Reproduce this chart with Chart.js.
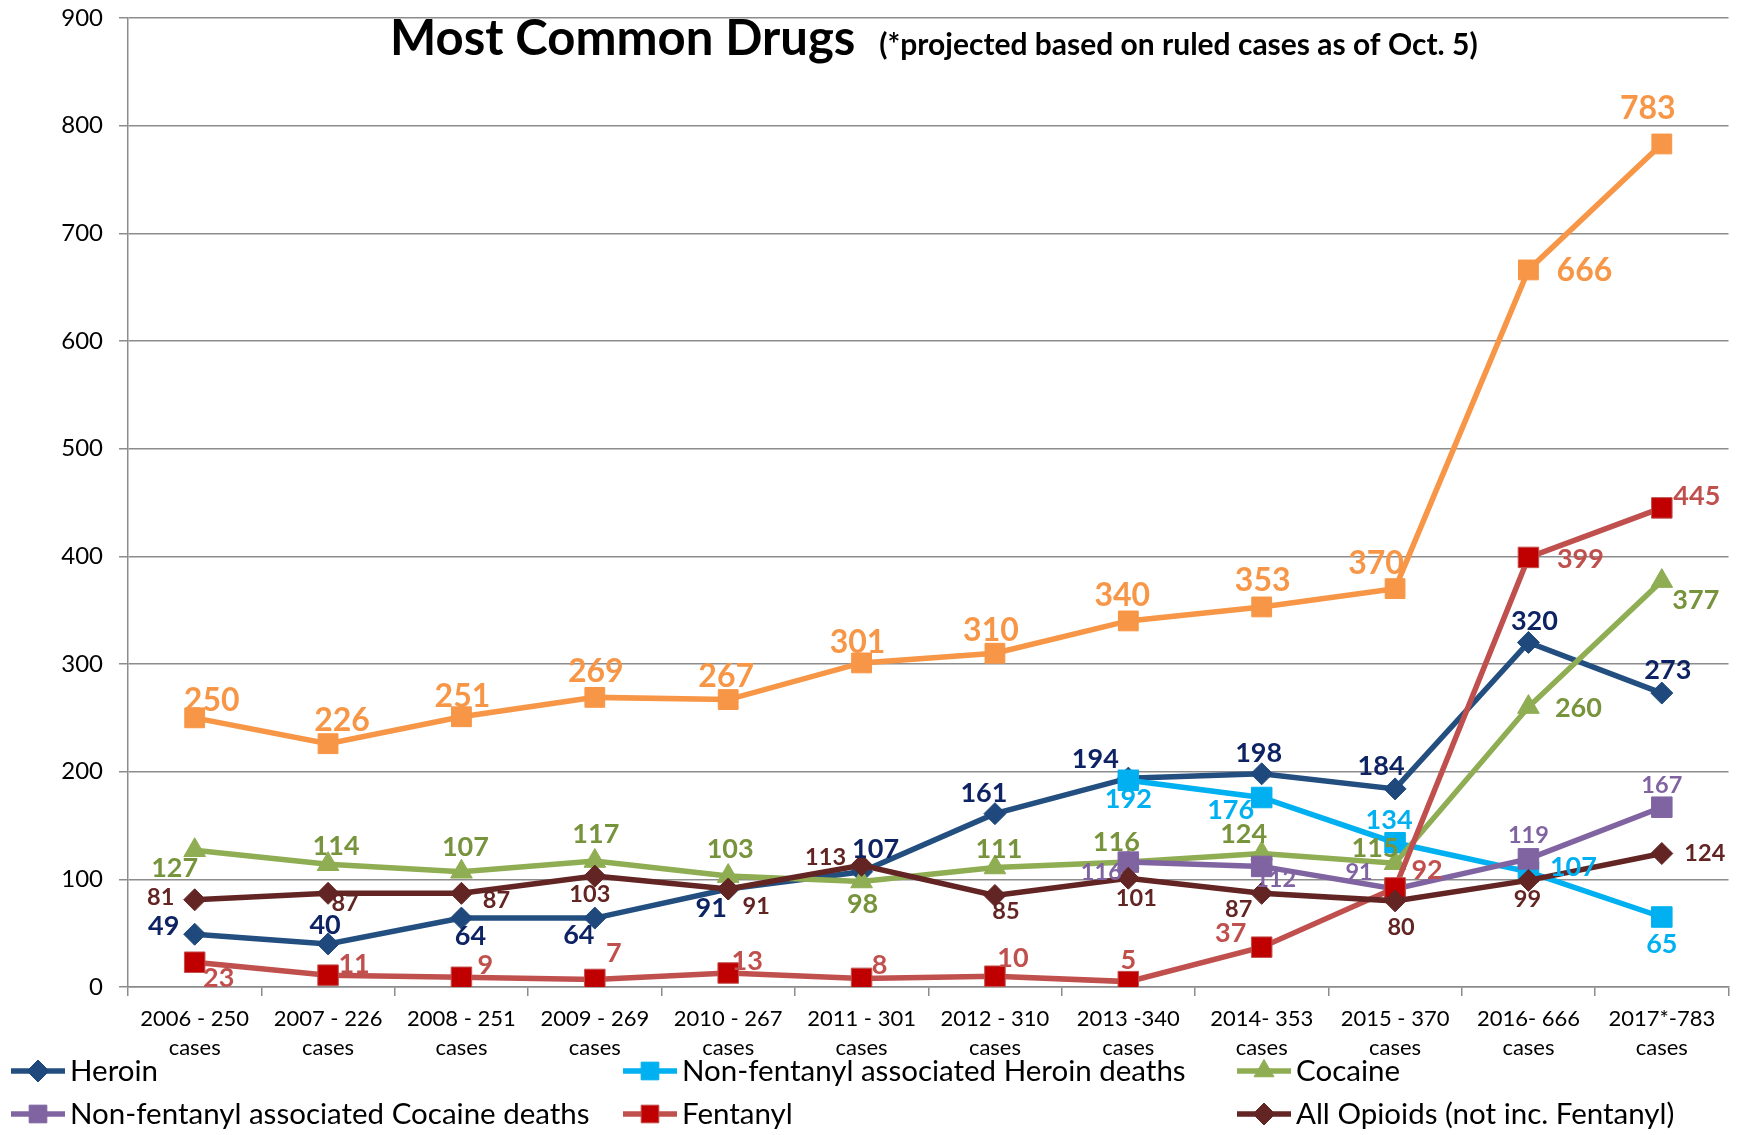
<!DOCTYPE html>
<html>
<head>
<meta charset="utf-8">
<title>Most Common Drugs</title>
<script src="https://cdn.jsdelivr.net/npm/chart.js@4.4.1/dist/chart.umd.min.js"></script>
<style>
  html, body { margin: 0; padding: 0; background: #fff; }
  #wrap { width: 1744px; height: 1135px; }
</style>
</head>
<body>
<div id="wrap"><canvas id="chart" width="1744" height="1135"></canvas></div>
<script>
// categories (x axis, two lines each)
var years = [
  ['2006 - 250', 'cases'], ['2007 - 226', 'cases'], ['2008 - 251', 'cases'],
  ['2009 - 269', 'cases'], ['2010 - 267', 'cases'], ['2011 - 301', 'cases'],
  ['2012 - 310', 'cases'], ['2013 -340', 'cases'], ['2014- 353', 'cases'],
  ['2015 - 370', 'cases'], ['2016- 666', 'cases'], ['2017*-783', 'cases']
];

// series values
var totalCases = [250, 226, 251, 269, 267, 301, 310, 340, 353, 370, 666, 783];
var heroin = [49, 40, 64, 64, 91, 107, 161, 194, 198, 184, 320, 273];
var nonFentHeroin = [null, null, null, null, null, null, null, 192, 176, 134, 107, 65];
var cocaine = [127, 114, 107, 117, 103, 98, 111, 116, 124, 115, 260, 377];
var nonFentCocaine = [null, null, null, null, null, null, null, 116, 112, 91, 119, 167];
var fentanyl = [23, 11, 9, 7, 13, 8, 10, 5, 37, 92, 399, 445];
var opioids = [81, 87, 87, 103, 91, 113, 85, 101, 87, 80, 99, 124];

// y axis
var yTicks = [0, 100, 200, 300, 400, 500, 600, 700, 800, 900];

// data label placement, offset from each point in px
var totalLabelPos = [[17,-17],[14,-23],[1,-20],[1,-26],[-2,-23],[-4,-20],[-4,-23],[-6,-25],[1,-26],[-19,-25],[56,1],[-14,-35]];
var heroinLabelPos = [[-31,-8],[-3,-19],[9,18],[-16,17],[-17,19],[14,-22],[-11,-20],[-33,-19],[-3,-21],[-14,-23],[6,-21],[6,-23]];
var nonFentHeroinLabelPos = [null,null,null,null,null,null,null,[0,19],[-31,13],[-6,-22],[45,-4],[0,27]];
var cocaineLabelPos = [[-20,18],[8,-18],[4,-24],[1,-27],[2,-27],[1,23],[4,-18],[-12,-20],[-18,-19],[-20,-15],[50,1],[34,19]];
var nonFentCocaineLabelPos = [null,null,null,null,null,null,null,[-27,10],[14,13],[-36,-17],[0,-23],[0,-22]];
var fentanylLabelPos = [[24,16],[26,-11],[24,-12],[19,-26],[19,-12],[18,-13],[18,-18],[0,-21],[-31,-14],[32,-18],[52,2],[35,-12]];
var opioidsLabelPos = [[-34,-2],[17,10],[35,7],[-5,18],[28,17],[-36,-8],[11,16],[8,20],[-23,16],[6,27],[-1,19],[43,0]];

var FONT = 'Lato, "Open Sans", sans-serif';
var GRID = '#8c8c8c';

function series(label, data, line, fill, style, radius, order, labelColor, labelSize, labelPos) {
    return {
        label: label,
        data: data,
        borderColor: line,
        backgroundColor: fill,
        borderWidth: 5.5,
        pointStyle: style,
        pointRadius: radius,
        pointHoverRadius: radius,
        pointBackgroundColor: fill,
        pointBorderColor: fill,
        pointBorderWidth: 1,
        tension: 0,
        spanGaps: false,
        order: order,
        labelColor: labelColor,
        labelSize: labelSize,
        labelPos: labelPos
    };
}

var datasets = [
    series('Total', totalCases, '#f79646', '#f79646', 'rect', 14, 0, '#f79646', 32, totalLabelPos),
    series('Heroin', heroin, '#234e80', '#1f497d', 'rectRot', 11, 6, '#0d2363', 27, heroinLabelPos),
    series('Non-fentanyl associated Heroin deaths', nonFentHeroin, '#00b0f0', '#00b0f0', 'rect', 14.5, 5, '#00b0f0', 27, nonFentHeroinLabelPos),
    series('Cocaine', cocaine, '#8fad52', '#8fad52', 'triangle', 12.5, 4, '#77933c', 27, cocaineLabelPos),
    series('Non-fentanyl associated Cocaine deaths', nonFentCocaine, '#8064a2', '#8064a2', 'rect', 14.5, 3, '#8064a2', 23.5, nonFentCocaineLabelPos),
    series('Fentanyl', fentanyl, '#c0504d', '#c00000', 'rect', 14.5, 2, '#c0504d', 27, fentanylLabelPos),
    series('All Opioids (not inc. Fentanyl)', opioids, '#632523', '#632523', 'rectRot', 11, 1, '#632523', 23.5, opioidsLabelPos)
];
datasets[5].pointBorderColor = '#c0504d';
datasets[0].hideInLegend = true;

// value labels next to each point
var valueLabels = {
    id: 'valueLabels',
    afterDatasetsDraw: function (chart) {
        var ctx = chart.ctx;
        ctx.save();
        ctx.textAlign = 'center';
        ctx.textBaseline = 'middle';
        chart.data.datasets.forEach(function (ds, i) {
            var meta = chart.getDatasetMeta(i);
            ctx.fillStyle = ds.labelColor;
            ctx.font = 'bold ' + ds.labelSize + 'px ' + FONT;
            meta.data.forEach(function (pt, j) {
                var v = ds.data[j];
                if (v === null || !ds.labelPos[j]) {
                    return;
                }
                ctx.fillText(String(v), pt.x + ds.labelPos[j][0], pt.y + ds.labelPos[j][1]);
            });
        });
        ctx.restore();
    }
};

// title inside the plot, plus the 3-column legend under the axis
var titleAndLegend = {
    id: 'titleAndLegend',
    afterDraw: function (chart) {
        var ctx = chart.ctx;
        ctx.save();
        ctx.fillStyle = '#000';
        ctx.textBaseline = 'alphabetic';
        ctx.textAlign = 'left';
        ctx.font = 'bold 49px ' + FONT;
        var title = 'Most Common Drugs';
        ctx.fillText(title, 390, 55);
        var tw = ctx.measureText(title).width;
        ctx.font = 'bold 30px ' + FONT;
        ctx.fillText('(*projected based on ruled cases as of Oct. 5)', 390 + tw + 24, 55);

        var cols = [11, 623, 1237],
            rows = [1071, 1114],
            k = 0;
        ctx.font = '29.5px ' + FONT;
        ctx.textBaseline = 'middle';
        chart.data.datasets.forEach(function (ds) {
            if (ds.hideInLegend) {
                return;
            }
            var x = cols[k % 3],
                y = rows[Math.floor(k / 3)];
            k++;
            ctx.strokeStyle = ds.borderColor;
            ctx.lineWidth = 5.5;
            ctx.beginPath();
            ctx.moveTo(x, y);
            ctx.lineTo(x + 54, y);
            ctx.stroke();
            ctx.fillStyle = ds.pointBackgroundColor;
            ctx.strokeStyle = ds.pointBorderColor;
            ctx.lineWidth = 1;
            Chart.helpers.drawPoint(ctx, {
                pointStyle: ds.pointStyle,
                radius: ds.pointStyle === 'rect' ? 12.5 : (ds.pointStyle === 'triangle' ? 11.5 : 11),
                rotation: 0,
                borderWidth: 1
            }, x + 27, y);
            ctx.fillStyle = '#000';
            ctx.fillText(ds.label, x + 59, y);
        });
        ctx.restore();
    }
};

new Chart(document.getElementById('chart').getContext('2d'), {
    type: 'line',
    data: { labels: years, datasets: datasets },
    options: {
        responsive: false,
        animation: false,
        devicePixelRatio: 1,
        layout: { padding: { top: 18, right: 11, left: 0, bottom: 0 } },
        plugins: {
            legend: { display: false },
            title: { display: false },
            tooltip: { enabled: false }
        },
        scales: {
            x: {
                offset: true,
                grid: {
                    display: true,
                    offset: true,
                    drawOnChartArea: false,
                    drawTicks: true,
                    tickLength: 9,
                    color: GRID,
                    lineWidth: 1.5
                },
                border: { color: GRID, width: 1.5 },
                ticks: {
                    color: '#000',
                    font: { family: FONT, size: 22, lineHeight: 1.3 },
                    padding: 9,
                    maxRotation: 0,
                    autoSkip: false
                },
                afterFit: function (scale) {
                    scale.height = 148;
                    scale.paddingLeft = 0;
                    scale.paddingRight = 0;
                }
            },
            y: {
                min: 0,
                max: 900,
                afterBuildTicks: function (scale) {
                    scale.ticks = yTicks.map(function (v) { return { value: v }; });
                },
                grid: {
                    color: GRID,
                    lineWidth: 1.5,
                    tickLength: 9
                },
                border: { color: GRID, width: 1.5 },
                ticks: {
                    color: '#000',
                    font: { family: FONT, size: 24 },
                    padding: 16
                },
                afterFit: function (scale) {
                    // fixed axis width; the label overhang is covered by layout padding
                    scale.width = 128;
                    scale.paddingTop = 0;
                    scale.paddingBottom = 0;
                }
            }
        }
    },
    plugins: [valueLabels, titleAndLegend]
});
</script>
</body>
</html>
